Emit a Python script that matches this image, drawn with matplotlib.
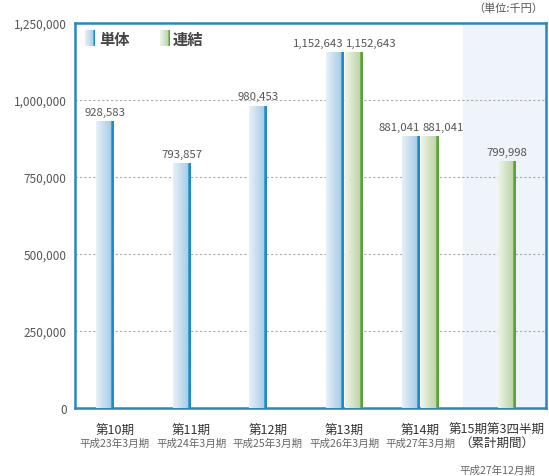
import matplotlib
matplotlib.use("Agg")
import matplotlib.pyplot as plt
import numpy as np
from matplotlib.colors import to_rgb

plt.rcParams['font.family'] = ['Noto Sans CJK JP', 'DejaVu Sans']

periods = ["第10期", "第11期", "第12期", "第13期", "第14期", "第15期第3四半期\n（累計期間）"]
subs = ["平成23年3月期", "平成24年3月期", "平成25年3月期", "平成26年3月期", "平成27年3月期", "平成27年12月期"]
tantai = [928583, 793857, 980453, 1152643, 881041, None]
renketsu = [None, None, None, 1152643, 881041, 799998]
yticks = [0, 250000, 500000, 750000, 1000000, 1250000]

fig = plt.figure(figsize=(5.49, 4.77), dpi=100)
ax = fig.add_axes([75/549, (477-409)/477, 471/549, 385/477])

x = np.arange(len(periods))
w = 0.23
off = 0.125

def grad_img(light1, light2, dark, n=40, nd=6):
    c1, c2, cd = np.array(to_rgb(light1)), np.array(to_rgb(light2)), np.array(to_rgb(dark))
    cols = []
    for i in range(n - nd):
        t = i / (n - nd - 1)
        cols.append(c1 * (1 - t) + c2 * t)
    for i in range(nd):
        cols.append(cd)
    return np.array(cols)[None, :, :]

blue_img = grad_img("#e6f0f8", "#a8cde6", "#1b8ccc")
green_img = grad_img("#eff4e8", "#bcd5a8", "#5aa23a")

def draw(vals, xs, img):
    out = []
    for xi, v in zip(xs, vals):
        if v is None:
            out.append(None)
            continue
        r = ax.bar(xi, v, width=w, color="none", edgecolor="none", zorder=3)[0]
        ax.imshow(img, extent=[r.get_x(), r.get_x() + r.get_width(), 0, v],
                  aspect="auto", zorder=3, interpolation="bilinear")
        out.append(r)
    return out

tb = draw(tantai, x - off, blue_img)
rb = draw(renketsu, x + off, green_img)

lab_kw = dict(va="bottom", fontsize=8.2, color="#555555", zorder=5)
for i in range(len(periods)):
    both = tb[i] is not None and rb[i] is not None
    if tb[i] is not None:
        r = tb[i]
        if both:
            ax.text(r.get_x() + r.get_width(), tantai[i] + 15000, f"{tantai[i]:,}", ha="right", **lab_kw)
        else:
            ax.text(r.get_x() + r.get_width() / 2, tantai[i] + 15000, f"{tantai[i]:,}", ha="center", **lab_kw)
    if rb[i] is not None:
        r = rb[i]
        if both:
            ax.text(r.get_x() + 0.01, renketsu[i] + 15000, f"{renketsu[i]:,}", ha="left", **lab_kw)
        else:
            ax.text(r.get_x() + r.get_width() / 2, renketsu[i] + 15000, f"{renketsu[i]:,}", ha="center", **lab_kw)

# shaded last category
ax.axvspan(4.55, 5.64, color="#eef4f9", zorder=0)

ax.set_yticks(yticks)
ax.set_yticklabels([f"{t:,}" for t in yticks], fontsize=8.5, color="#555555")
ax.tick_params(axis="y", length=0, pad=6)
for t in yticks[1:-1]:
    ax.axhline(t, color="#aaaaaa", linestyle=(0, (2, 2)), linewidth=0.8, zorder=1)

ax.set_xticks(x)
ax.set_xticklabels([])
ax.tick_params(axis="x", length=0)
for xi, p, s in zip(x, periods, subs):
    n_lines = p.count("\n") + 1
    main_off = -15.8 if n_lines == 1 else -20.0
    ax.annotate(p, xy=(xi, 0), xycoords=("data", "axes fraction"), xytext=(0, main_off),
                textcoords="offset points", ha="center", va="center", fontsize=9,
                color="#333333", linespacing=1.05)
    yoff = -24.8 if n_lines == 1 else -44.6
    ax.annotate(s, xy=(xi, 0), xycoords=("data", "axes fraction"),
                xytext=(0, yoff), textcoords="offset points",
                ha="center", va="center", fontsize=7.6, color="#666666")

for sp in ax.spines.values():
    sp.set_color("#2a86c2")
    sp.set_linewidth(1.8)

# legend
ax.imshow(blue_img, extent=[-0.39, -0.26, 1175000, 1224000], aspect="auto", zorder=4)
ax.text(-0.20, 1199000, "単体", fontsize=11, fontweight="bold", color="#444444", va="center", ha="left", zorder=5)
ax.imshow(green_img, extent=[0.59, 0.71, 1175000, 1224000], aspect="auto", zorder=4)
ax.text(0.76, 1199000, "連結", fontsize=11, fontweight="bold", color="#444444", va="center", ha="left", zorder=5)

ax.set_xlim(-0.52, 5.64)
ax.set_ylim(0, 1250000)

fig.text(543/549, 1 - 9/477, "（単位:千円）", ha="right", va="center", fontsize=8, color="#555555")

fig.savefig("out.png", dpi=100)
